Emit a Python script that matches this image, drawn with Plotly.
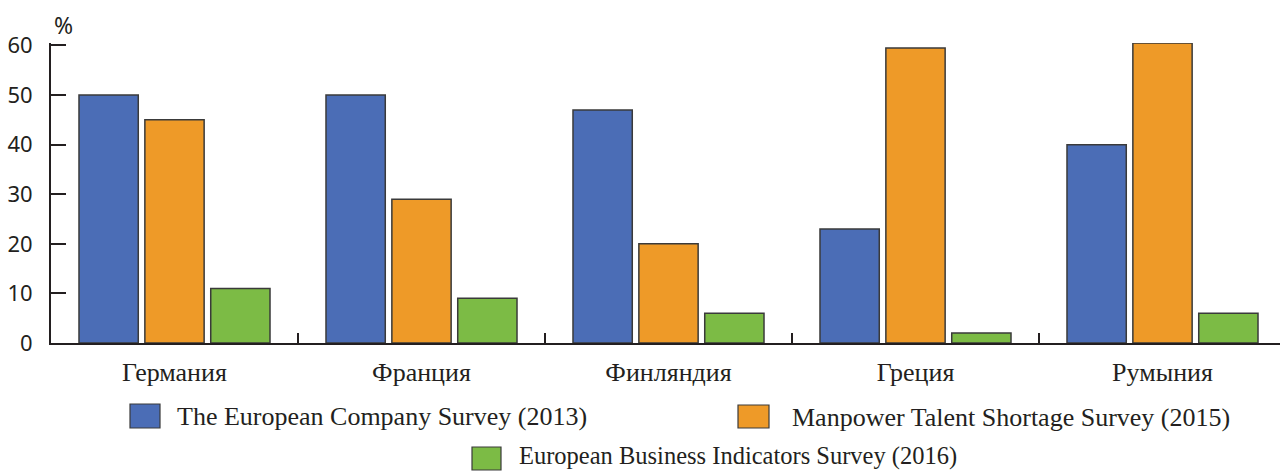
import plotly.graph_objects as go

# Data
countries = ["Германия", "Франция", "Финляндия", "Греция", "Румыния"]
series_names = [
    "The European Company Survey (2013)",
    "Manpower Talent Shortage Survey (2015)",
    "European Business Indicators Survey (2016)",
]
company_survey_2013 = [50, 50, 47, 23, 40]
manpower_2015 = [45, 29, 20, 59.5, 60.5]
business_indicators_2016 = [11, 9, 6, 2, 6]
y_ticks = [0, 10, 20, 30, 40, 50, 60]

colors = ["#4B6DB6", "#EE9A28", "#7CBB45"]
outline = "#3a3a3a"
ink = "#231F20"

W, H = 1280, 472
L, R, T, B = 51, 0, 43, 129
plot_w = W - L - R
plot_h = H - T - B
cat_px = 247  # width of one country slot in pixels

fig = go.Figure()
for name, vals, col in zip(series_names,
                           [company_survey_2013, manpower_2015, business_indicators_2016],
                           colors):
    fig.add_trace(go.Bar(
        x=countries, y=vals, name=name,
        marker=dict(color=col, line=dict(color=outline, width=1.5)),
        showlegend=False,
    ))


def px_x(px):
    return (px - L) / plot_w


def px_y(py):
    return (H - B - py) / plot_h


# Legend drawn as boxes with labels, laid out in two rows
# (box x0, y0, x1, y1, label x, label y, label size)
legend_items = [
    (130, 404, 160, 428, 175, 416, 26),
    (738, 405, 769, 428, 790, 417, 26),
    (472, 447, 501, 470, 517, 456, 24.5),
]
shapes = []
annotations = []
for (x0, y0, x1, y1, tx, ty, fs), name, col in zip(legend_items, series_names, colors):
    shapes.append(dict(type="rect", xref="paper", yref="paper",
                       x0=px_x(x0), x1=px_x(x1), y0=px_y(y1), y1=px_y(y0),
                       fillcolor=col, line=dict(color=outline, width=1.2)))
    annotations.append(dict(xref="paper", yref="paper", x=px_x(tx), y=px_y(ty),
                            text=name, showarrow=False, xanchor="left", yanchor="middle",
                            font=dict(family="Liberation Serif", size=fs, color=ink)))

annotations.append(dict(xref="paper", yref="paper", x=px_x(63), y=px_y(25),
                        text="%", showarrow=False, xanchor="center", yanchor="middle",
                        font=dict(family="Noto Sans", size=23, color=ink)))

fig.update_layout(
    width=W, height=H,
    margin=dict(l=L, r=R, t=T, b=B, pad=0),
    paper_bgcolor="white", plot_bgcolor="white",
    barmode="group", bargap=0.2, bargroupgap=0.1,
    shapes=shapes, annotations=annotations,
    showlegend=False,
)
fig.update_xaxes(
    range=[-0.5, -0.5 + plot_w / cat_px],
    showline=True, linecolor=ink, linewidth=2,
    ticks="inside", tickson="boundaries", ticklen=10, tickwidth=2, tickcolor=ink,
    showgrid=False, zeroline=False,
    tickfont=dict(family="Liberation Serif", size=26, color=ink),
    ticklabelstandoff=5,
)
fig.update_yaxes(
    range=[0, 60.5],
    tickvals=y_ticks,
    showline=True, linecolor=ink, linewidth=2,
    ticks="inside", ticklen=15, tickwidth=2, tickcolor=ink,
    showgrid=False, zeroline=False,
    tickfont=dict(family="Noto Sans", size=22, color=ink),
    ticklabelstandoff=12,
)

fig.write_html("out.html")
